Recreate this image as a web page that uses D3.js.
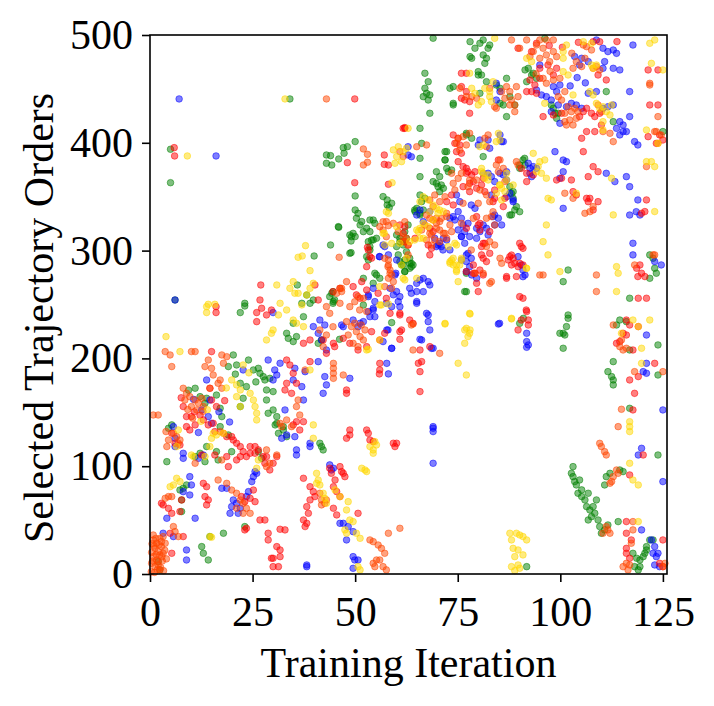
<!DOCTYPE html>
<html>
<head>
<meta charset="utf-8">
<script src="https://cdn.jsdelivr.net/npm/d3@7"></script>
<style>
  body { margin: 0; background: #fff; }
  text { font-family: "Liberation Serif", "Times New Roman", serif; fill: #000; }
</style>
</head>
<body>
<div class="chart"></div>
<script>
// [training iteration, selected trajectory order], one list per colour
var bluePts = [
  [7.1,440.7],[16.1,387.8],[62.9,388.7],[56.8,305.2],[55.9,294.4],[58.1,296],[59.9,279],[53.2,257.3],[54.4,265],[54.8,252.7],[60.1,262],[59.3,259],
  [95,472.2],[103.5,480],[104.7,472.2],[105.2,478.4],[106.8,475.3],[108.8,495.4],[110.4,487.7],[111.6,484.6],[112.9,486.1],[113.7,483],[110.8,475.3],[110.4,469.1],[112.9,469.1],[114.5,467.6],[117.7,490.7],
  [84.4,455.2],[85.3,447.5],[84.4,439.7],[94.2,449],[95.4,444.4],[96.6,442.8],[97.8,439.7],[99.1,447.5],[98.3,452.1],[99.9,453.6],[99.5,435.1],[97.8,428.9],[99.9,418.1],[101.5,433.5],[102.7,436.6],[103.9,435.1],[105.2,432],[106.8,445.9],[108.8,447.5],[110.4,432],[111.6,433.5],[112.9,435.1],[116.9,424.3],[114.5,419.6],[115.3,416.5],[113.7,413.4],[116.9,447.5],[116.1,410.4],[115.3,410.4],[114.5,407.3],[118.1,401.1],[118.9,398],
  [80,398],[80.4,402.6],[82.4,402.6],[82.8,394.9],[85.3,407.3],[85.7,401.1],[86.1,401.1],
  [81.2,371.7],[82.4,371.7],[83.2,368.6],[84,364],[83.2,351.6],[85.3,371.7],[86.1,370.2],[86.9,373.2],[86.9,365.5],[87.7,353.2],[88.5,347],[94.2,376.3],[93,368.6],[92.2,381],[92.6,376.3],
  [98.7,391.8],[100.7,384],[101.5,382.5],[100.7,373.2],[99.9,367.1],[100.7,339.2],[111.2,371.7],[113.3,364],[116.9,359.3],[118.9,347],[116.1,368.6],[116.9,333],[118.5,336.1],[119.4,333],
  [65.8,337.7],[68.2,336.2],[65,333],[66.6,326.9],[70.2,305.2],[71,303.7],[71.5,311.4],[73.1,330],[73.9,331.5],[75.1,336.2],[75.9,330],[76.3,323.8],[75.1,319.2],[75.9,313],[76.7,306.8],
  [77.1,296],[77.1,289.8],[77.9,285.1],[78.4,277.4],[77.1,280.5],[79.6,274.3],[75.9,291.3],[77.9,313],[76.7,317.6],[80.4,317.6],[79.6,311.4],[82,320.7],[81.2,323.8],[82.4,314.5],[84,333],[84.9,330],[84,323.8],
  [89.7,294.4],[90.5,286.7],[90.9,282],[91.4,277.4],[117.7,306.8],[117.7,296],[123,289.8],[124.6,286.7],[65,252.7],[65,262],[63.3,265],
  [67.8,240.3],[67.8,234.1],[68.2,226.4],[65.8,217.7],[69,209.4],[84.9,231.9],[91.8,223.3],[91.8,215.6],[92.2,212.5],[91.8,210.3],[69,136.7],[69,135.2],[69,132.1],[69,102.7],
  [121,221.7],[121,195.4],[120.2,187.7],[121,186.2],[125,152.2],[119.8,116.6],[119,110.4],[125,85.7],[119.8,40.9],[122.2,31.6],[123,25.4],[123.4,16.1],[122.6,19.2],[123.8,19.2],[123,8.4],[124.2,6.8],
  [30,242.5],[39.8,229.5],[41,223.3],[41.4,235.6],[42.6,231],[43,207.8],[46.7,231],[49.5,235.6],[51.2,232.6],[53.2,243.4],[54.4,246.5],[54.8,238.7],[57.7,226.4],[58.9,209.4],[60.9,248],[60.5,252.7],
  [22.7,189.3],[30.4,189.3],[30.9,184.6],[30,180],[31.7,195.5],[28.8,198.5],[35.3,190.8],[37.8,187.7],[34.9,180],[37,173.8],[37.4,161.4],[41,197],[42.6,183.1],[43,175.4],[42.2,167.6],[48.7,181.5],[57.7,195.4],[58.1,185.6],
  [13.8,180],[12.6,152.2],[14.2,146],[15,139.8],[14.6,161.4],[32.9,152.2],[32.1,125.9],[33.3,129],[35.3,127.4],[35.7,115.1],[35.7,110.4],[39,121.3],[39,118.2],[5.7,136.7],[6.1,118.2],[6.1,125.9],
  [8.1,112],[8.1,107.3],[11.8,107.3],[13,110.4],[25.6,95],[25.2,90.3],[26,93.4],[24.8,85.7],[8.1,76.4],[9.7,90.3],[10.1,82.6],[9.7,73.3],
  [4.1,51.7],[3.2,37.8],[5.7,34.7],[8.9,22.3],[8.9,13],[11,51.7],[19.5,56.3],[19.9,62.5],[17.5,79.5],[18.7,79.5],[20.3,68.7],[21.1,65.6],[21.5,56.3],[22,61],[24,76.4],[23.5,71.8],
  [38.2,6.8],[38.2,8.4],[43.8,101.2],[44.2,96.5],[44.7,98.1],[46.3,47],[47.1,47],[48.3,44],[49.5,39.3],[47.9,31.6],[49.5,16.1],[49.9,13],[49.5,5.3],[50.7,13],
  [62.9,396.4],[63.7,387.1],[74.7,351.6],[75.5,345.4],[78.3,342.3],[79.2,339.2],[77.5,325.3],[79.6,320.7],[75.9,313],[74.3,328.4],[69.4,311.4],[70.6,306.7],[72.3,309.8],[71.4,300.6],[69.8,303.7],[73.1,300.6],
  [77.5,297.5],[78.3,292.8],[83.6,331.5],[85.7,323.8],[86.9,350],[88.5,345.4],[90.9,275.8],[85.2,232.5],[92.6,371.7],[93.4,377.9],[56,294.4],[57.2,303.7],[59.7,277.4],[60.1,291.3],[58.5,265],
  [57.6,251.1],[58.9,248],[60.9,257.3],[63.7,260.4],[65,251.1],[65.8,272.7],[66.6,274.3],[67.8,271.2],[68.2,268.1],[65,269.6],[66.6,261.9],[67.4,241.8],[66.2,217.1],[68.6,209.3],[58.9,209.3],
  [58,226.4],[56.8,215.6],[53.6,238.7],[54.4,244.9],[53.2,258.8],[52,234.1],[50.7,229.4],[47.1,229.4],[41.8,217.1],[6.1,254.2],
  [10.6,162],[16.8,150.5],[19.4,141],[11.8,131.2],[104.1,460.5],[106.1,455.6],[102.4,452.8]
];

var greenPts = [
  [34.1,440.7],[5,394],[5,363],[43,388.7],[43,381],[44,388.1],[44.3,379.4],[46,385],[47.1,395.5],[47.3,390.3],[48.1,396.4],[50,401.1],[50,350.7],[56.8,350.1],[57.8,347],[57.8,342.3],[58.9,343.9],[58.3,339.9],
  [50,337.7],[50.7,334.6],[50.3,330],[51.6,326.9],[51.2,323.8],[52.8,320.7],[53.6,328.4],[54.4,328.4],[54.8,325.3],[53.6,317.6],[52,317.6],[46,321.6],[48.7,314.5],[49.5,316],[49,308.9],[50,313],[44,305.2],
  [53.2,308.3],[54.4,309.9],[55.2,311.4],[53.6,303.7],[52.8,294.4],[53.2,291.3],
  [60.1,314.5],[60.9,308.3],[61.7,305.2],[62.5,311.4],[60.5,296],[60.9,289.8],[61.7,286.7],[62.1,280.5],[54.8,279],[55.2,277.4],[56,274.3],[54.4,269.7],[40,295],[49,298.1],[35.9,268.1],[38.2,258.8],
  [39.8,254.2],[44.3,260.4],[44.7,252.7],[23.1,251.1],[6.1,254.2],
  [69,497],[78,493.8],[79.2,487.7],[80.4,492.3],[81.2,495.4],[82.4,487.7],[82.8,490.7],[81.2,481.5],[82,478.4],[81.6,473.7],[78,479.9],[78.4,478.4],[96.2,496.9],
  [67,464.5],[67.8,456.7],[67,450.6],[67.4,445.9],[66.6,442.8],[68.2,444.4],[67.8,439.7],[73.9,436.6],[73.9,435.1],[68.2,427.4],
  [73.1,450.6],[73.9,452.1],[80,466],[80,462.9],[80.8,462.9],[80.4,445.9],[82,456.7],[84.4,453.6],[85.3,450.6],[86.9,459.8],[85.3,436.6],[86.1,435.1],[87.7,442.8],[88.9,435.1],[86.9,424.3],
  [91.4,467.6],[92.2,469.1],[93.4,464.5],[94.2,459.8],[91.8,456.7],[93,462.9],[97.8,435.1],[98.3,432],[98.7,427.4],[99.5,427.4],[99.1,422.7],[111.2,447.5],[112.9,419.6],
  [65.8,413.4],[77.1,408.8],[78.4,404.2],[77.1,407.3],[81.2,387.2],[72.3,391.8],[71.9,384.1],[66.2,399.5],[65.8,368.6],[65.8,385.6],
  [69,364],[69.8,362.4],[71,360.9],[71.5,357.8],[72.3,376.3],[73.5,374.8],[70.6,368.6],[87.7,359.3],[88.5,354.7],[88.5,348.5],[89.3,340.8],[88.9,337.7],[88.1,333.1],[90.1,379.4],[90.9,384.1],[91.4,379.4],[125,410.4],
  [65,339.2],[64.6,336.1],[65.8,334.6],[66.6,337.7],[66.2,345.4],[67,348.5],[62.9,323.8],[62.1,317.6],[61.7,308.3],[62.5,299],[63.3,292.9],[63.7,288.2],[64.1,286.7],[63.3,283.6],[62.1,280.5],
  [77.1,279],[76.7,262],[101.9,282],[100.7,271.2],[121.8,296],[122.6,292.9],[123,283.6],[123.4,279],[121.8,274.3],[116.9,255.8],
  [91,237.2],[101.9,240.3],[101.9,237.2],[101.5,229.5],[100.7,223.3],[99.9,223.3],[101.1,221.7],[100.7,209.4],
  [113.7,231],[114.5,235.6],[116.1,234.1],[116.9,207.8],[112.9,197],[111.6,187.7],[112.5,183.1],[112.9,180],[112.9,175.4],[116.9,153.7],[123.8,212.5],[123.8,184.6],[123.8,110.4],
  [103.1,99.6],[102.7,93.4],[103.1,90.3],[103.5,85.7],[103.9,82.6],[104.7,87.2],[105.2,78],[104.3,74.9],[105.2,71.8],[106,68.7],[106.8,74.9],[106.4,62.5],[107.2,59.4],[108,62.5],[108.8,68.7],[108.4,56.3],
  [107.6,53.2],[106.8,50.1],[109.2,50.1],[109.6,44],[110,37.8],[110.8,40.9],[111.6,45.5],[114.1,48.6],[112.1,93.4],[111.2,90.3],[110.8,82.6],[114.5,96.5],[115.3,95],
  [117.7,19.2],[118.6,14.6],[119.4,13],[120.2,16.1],[121,25.4],[121,22.3],[120.6,19.2],[119.4,6.8],[119,3.8],[118.1,6.8],[121.8,31.6],[122.6,31.6],[91.8,6.8],
  [22,242.5],[23.1,248.6],[34.9,232.6],[37.4,238.7],[37,251.1],[39,251.1],[33.3,223.3],[33.7,218.6],[34.9,215.6],[35.7,220.2],[41,214],[41.8,217.1],[46.2,217.7],[58.9,233.2],
  [20.3,203.2],[19.1,192.4],[21.1,193.9],[24,198.5],[25.2,189.3],[26.4,190.8],[26.8,186.2],[27.6,183.1],[28,180],[29.2,181.5],[11,172.3],[12.2,164.5],[13.4,158.4],[13.8,163],[17.1,153.7],[17.5,146],
  [17.1,136.7],[19.1,129],[19.9,113.5],[22,176.9],[23.5,173.8],[22.7,163],[22,155.3],
  [28.4,161.4],[28.8,149.1],[30,152.2],[30.9,146],[30.9,139.8],[32.5,133.6],[31.3,130.5],[33.3,127.4],[28.4,170.7],[30,169.2],[30.5,138.3],[32.5,136.7],[41.4,121.3],[41.8,118.2],[42.2,115.1],
  [4.5,135.2],[5.3,138.3],[4.1,104.2],[11,108.9],[12.2,112],[13.4,104.2],[13.8,118.2],[16.2,113.5],[16.6,105.8],[26.4,113.5],[27.2,107.3],[7.3,77.9],[8.1,79.5],[8.9,82.6],[7.7,68.7],[7.7,57.9],
  [12.6,25.4],[13,19.2],[14.2,13],[14.6,34.7],[17.9,37.8],[23.1,44],[2,11.5],[2.4,3.8],
  [71.9,391.8],[71.9,384.1],[69.8,373.2],[72.7,373.2],[70.2,359.3],[70.6,354.7],[65.8,351.6],[45.9,322.2],[49.1,312.9],[48.7,297.5],[54,309.8],[53.6,300.6],[60.9,311.4],[60.1,303.7],
  [62.1,291.3],[63.3,288.2],[63.7,285.1],[61.3,286.7],[52,274.3],[44.6,261.9],[43.8,257.3],[44.6,251.1],[45,254.2],[64.5,337.7],[65.8,333],[90.1,376.3],[91.3,385.6],[88.1,353.1],[90.1,336.1],
  [87.7,333],[77.1,261.9],[90.1,232.5],[52,249.5],
  [9.4,170.5],[16.2,166],[20.8,185.4],[25.8,178.2]
];

var redPts = [
  [49.9,440.7],[5.9,395.5],[6,387.8],[48.1,381.6],[57.1,388.7],[57.1,380],[58.1,379.4],[62.1,414.1],[49.9,363],[58.1,361.5],[62.1,322.2],[27,268.1],[26.8,254.2],[40.2,268.1],[41,254.2],[51.6,271.2],
  [50.3,258.9],[51.2,255.8],[53,303],[54,293],
  [89.7,487.7],[93,484.6],[94.2,492.3],[97,472.2],[95,469.1],[99.1,469.1],[108,493.8],[109.6,493.8],[109.2,462.9],[111.2,458.3],[121.4,467.6],[123.8,467.6],[121.8,435.1],[123.8,435.1],
  [75.9,464.5],[77.1,464.5],[75.9,452.1],[77.1,447.5],[77.9,438.2],[76.7,439.7],[75.9,441.3],[77.9,427.4],[91.8,447.5],[93,447.5],[94.2,445.9],[92.6,458.3],[93.8,453.6],[95,459.8],[98.3,462.9],
  [95.8,424.3],[98.3,425.8],[100.3,427.4],[104.7,424.3],[105.6,428.9],
  [106.4,432],[107.6,427.4],[108.4,424.3],[109.6,427.4],[106.4,410.4],[105.2,404.2],[108.4,410.4],[110,416.5],[61.7,413.4],[62.1,413.4],
  [73.9,407.3],[75.1,404.2],[74.3,399.5],[75.5,398],[75.9,390.3],[74.7,391.8],[75.1,382.5],[76.3,377.9],[77.1,376.3],[77.5,373.2],[78.4,370.2],[79.2,373.2],[78.8,364],[77.9,354.7],[79.6,357.8],
  [80.8,360.9],[81.2,367.1],[81.6,354.7],[84.9,384.1],[84,356.2],[84,348.5],
  [90.5,376.3],[91.8,371.7],[93.4,370.2],[91.8,364],[99.1,365.5],[100.3,367.1],[102.7,365.5],[103.1,354.7],[103.9,351.6],[106.4,348.5],[106.8,345.4],[107.2,348.5],[108,337.7],[109.2,345.4],
  [105.6,391.8],[108,377.9],[109.2,373.2],[106.8,368.6],
  [121,347],[119.8,334.6],[120.6,336.2],[121.4,405.7],[123.4,399.5],[124.2,407.3],[125,402.6],
  [68.2,320.7],[69,317.6],[68.6,302.1],[68.2,296],[67.8,305.2],[60.9,323.8],[61.7,316],[62.1,308.3],[62.9,305.2],[64.6,311.4],
  [80,323.8],[80.4,319.1],[81.6,306.8],[80.8,303.7],[81.2,292.9],[82,289.8],[80.8,296],[80.4,282],[79.2,279],[79.6,269.7],[80,262],[77.1,280.5],[78.8,286.7],
  [87.3,291.3],[88.1,286.7],[88.9,288.2],[89.7,285.1],[88.5,292.9],[87.7,294.4],[90.1,288.2],[90.9,286.7],[90.1,306.8],[90.5,303.7],[90.9,302.1],[86.9,275.9],[89.3,275.9],[90.9,255.8],
  [118.6,283.6],[119.4,286.7],[119.8,279],[120.6,275.9],[118.9,275.9],[119,255.8],[121,255.8],
  [60.9,240.3],[60.9,224.8],[60.9,217.7],[65.8,207.8],[65.4,195.5],[66.2,197],[65.8,187.7],[65.8,169.2],[89.7,226.4],[90.5,235.6],[91.8,243.4],[92.2,235.6],[92.2,231],
  [113.7,214],[114.5,215.6],[115.3,223.3],[116.1,221.7],[116.9,231],[116.1,235.6],[119,229.5],[117.7,207.8],[116.9,180],[119,183.1],[118.1,167.6],[117.7,152.2],[123,195.4],[120.2,110.4],
  [116.9,91.9],[116.1,48.6],[116.1,37.8],[117.3,31.6],[116.1,23.8],[116.1,19.2],[116.9,14.6],[125,31.6],[125,6.8],[124.2,9.9],
  [16.1,248],[16.1,242.5],[26,242.5],[27.2,246.5],[28.4,240.3],[29.6,244.9],[26,234.1],[37.4,214],[39,217.1],[44.7,214],[57.2,223.3],[56,217.1],[15,206.3],
  [33.3,198.5],[34.1,193.9],[34.9,186.2],[33.3,176.9],[32.9,170.7],[35.7,176.9],[34.5,167.6],[39,197],[47.9,170.7],[47.9,167.6],[56,195.4],[56,189.3],[55.9,185.6],
  [8.1,155.3],[8.9,146],[10.1,146],[11,138.3],[9.7,133.6],[8.9,136.7],[14.6,172.3],[15,161.4],[16.2,155.3],[15.4,139.8],[15.8,132.1],[14.2,138.3],[13,142.9],
  [34.9,138.3],[35.7,141.3],[37.4,141.3],[36.5,133.6],[5.3,130.5],[6.1,121.3],[7.3,119.7],
  [18.7,127.4],[19.9,127.4],[20.3,124.3],[21.1,121.3],[22,118.2],[22.7,113.5],[23.5,108.9],[24.4,112],[25.6,112],[26.4,115.1],[27.6,108.9],[28.4,108.9],
  [12.6,110.4],[15.8,110.4],[18.7,108.9],[19.1,99.6],[21.1,105.8],[22,108.9],[24.4,118.2],[25.6,118.2],[30.9,108.9],[30,102.7],[28,102.7],[29.2,96.5],
  [4.5,60.9],[5.3,56.3],[7.3,57.9],[7.7,68.7],[13,84.1],[13.8,81],[13.4,71.8],[14.2,68.7],[13.8,64.1],[2.8,65.6],[3.2,64.1],[4.9,37.8],[5.3,19.2],[8.1,34.7],
  [24.4,70.2],[23.1,67.1],[22.3,71.8],[25.2,77.9],[25.6,67.1],[28,50.1],[26.8,50.1],[23.5,42.4],[23.1,40.9],[32.9,40.9],[31.7,41.5],
  [28.8,37.8],[28.8,31.6],[30,14.6],[29.6,14.6],[30,6.8],[31.7,22.3],[31.7,16.1],[30.9,25.4],[31.3,6.8],
  [37.4,88.8],[39,81],[39.8,76.4],[40.2,71.8],[39,68.7],[38.2,62.5],[38.6,56.3],[37.4,50.1],[38.2,47],[37.8,44],
  [43.8,98.1],[44.2,93.4],[45.1,87.2],[46.3,99.6],[46.7,95],[47.1,93.4],[47.5,90.3],[44.7,81],[45.5,76.4],[46.3,71.8],[44.7,61],[45.5,54.8],
  [48.7,133.6],[48.7,129],[47.9,125.9],[52.8,133.6],[53.2,130.5],[53.6,124.3],[54.4,122.8],[59.3,121.3],[59.7,118.2],[60.1,121.3],[50.7,56.3],
  [72.3,345.4],[73.5,351.6],[73.9,342.3],[77.1,371.7],[77.9,362.4],[76.3,359.3],[77.1,320.7],[80.4,325.3],[79.6,331.5],[82.8,317.6],[83.6,345.4],[86.1,340.8],[86.5,348.5],[81.2,306.7],[82.8,297.5],
  [88.1,295.9],[78.8,278.9],[81.2,277.4],[86.9,274.3],[90.1,257.3],[91.7,244.9],[57.6,255.7],[55.6,260.4],[58.5,241.8],[60.9,241.8],[63.3,235.6],[64.1,232.5],[61.3,226.4],[68.2,210.9],
  [44.6,261.9],[46.3,265],[49.5,266.6],[52.8,263.5],[54,224.8],[52.8,210.9],[50.7,207.8],[48.7,214],[47.1,218.6],[45,210.9],[42.2,217.1],[43,204.7],[53.6,294.4],[52.8,285.1],[53.2,300.6],
  [10.8,150.4],[12.2,147.2],[7.6,163.5],[18.2,160.8],[100.5,488.6],[104.4,493.2],[113.8,493.9],[97.3,490.2]
];

var orangePts = [
  [43,440.7],[52,394.3],[53,389.3],[53,381.9],[52,379.4],[57.6,326.9],[58.1,323.2],[46.1,293.8],[46.3,265],[46.7,262],[47.9,271.2],[58.1,291.3],[58.1,286.7],[58.5,282],[58.9,277.4],[58.1,274.3],
  [59.3,271.2],[62.5,311.4],[62.9,296],[60.9,391.8],[61.7,387.2],
  [88.1,495.4],[90.1,487.7],[91.8,495.4],[92.6,480],[93.4,484.6],[94.2,490.7],[95,478.4],[95.8,487.7],[96.6,481.5],[97.4,475.3],[98.3,484.6],[99.1,479.9],[95,495.4],[96.6,495.4],[98.3,495.4],
  [103.1,469.1],[103.9,475.3],[105.2,470.7],[106,478.4],[105.6,490.7],[106.4,489.2],[107.6,486.1],[108,469.1],[108.8,470.7],[109.6,467.6],[121.8,455.2],[121.8,453.6],[123.8,424.3],
  [75.5,450.6],[77.1,442.8],[78.4,442.8],[79.6,441.3],[82.8,450.6],[84,433.5],[84.4,432],[85.7,447.5],[86.5,441.3],[86.9,452.1],[87.7,447.5],[88.1,439.7],[89.3,452.1],[89.7,442.8],[87.7,435.1],
  [88.9,435.1],[88.9,428.9],
  [95.8,459.8],[96.6,455.2],[98.3,458.3],[99.9,459.8],[99.5,442.8],[100.3,439.7],[101.1,447.5],
  [101.1,419.6],[101.5,416.5],[102.3,421.2],[103.1,416.5],[103.9,422.7],[102.7,428.9],[103.5,432],[104.3,428.9],[101.9,433.5],[101.1,427.4],
  [109.2,435.1],[110,428.9],[110.4,410.4],[112.1,408.8],[112.9,401.1],[75.1,404.2],[76.3,405.7],[77.1,398],[77.9,408.8],[81.6,404.2],[82,396.4],[82.4,407.3],[85.3,384.1],[84.4,379.4],[84.9,373.2],
  [86.1,376.3],[86.5,364],[75.9,371.7],[77.9,365.5],[89.3,382.5],[89.7,379.4],[101.1,353.2],[103.1,348.5],[106,334.6],[107.2,336.1],[108,340.8],[121,377.9],[123,410.4],[124.6,407.3],[123.8,399.5],
  [123.4,410.4],
  [67.4,333],[69,328.4],[69.8,330],[70.6,326.9],[69.8,320.7],[68.6,314.5],[69.4,309.9],[70.6,308.3],[71.5,316],[72.3,311.4],[73.1,323.8],[72.3,331.5],[82.8,308.3],[84,305.2],[83.2,331.5],[82,330],
  [84,323.8],[85.3,292.9],[85.7,288.2],[95,277.4],[95.8,277.4],[108.8,277.4],[108.8,262],[118.1,286.7],[122.6,296],[123,296],
  [64.1,231.9],[112.9,231],[114.9,217.1],[114.5,210.9],[115.3,207.8],[116.1,209.4],[118.1,187.7],[125,187.7],[114.9,152.8],[114.1,136.7],[109.6,121.2],[110,118.2],[110.8,113.5],[111.2,110.4],
  [111.2,44],[111.6,40.9],[110.4,37.8],[112.1,37.8],[113.7,96.5],[114.1,93.4],[112.9,90.3],[112.5,85.7],[112.1,84.2],[117.7,48.6],[117.7,40.9],[117.3,28.5],[115.3,6.8],[116.9,8.4],[116.1,9.9],
  [116.5,3.8],[125,6.8],[125.5,9.9],
  [47.9,234.1],[49.1,229.5],[50.3,224.8],[51.2,220.2],[52,217.1],[49.5,214],[50.7,210.9],[52.4,226.4],[48.3,221.7],[49.9,232.6],
  [3.7,206.3],[4.9,203.2],[5.3,192.4],[10.1,206.3],[11,206.3],[17.5,203.2],[13.4,192.4],[14.2,198.5],[15,190.8],[18.7,201.6],[17.9,195.5],[17.1,180],[17.5,172.3],[14.6,172.3],[15.4,184.6],[16.6,176.9],
  [37.8,189.3],[36.1,161.4],[35.7,155.3],[36.5,147.5],[44.7,195.4],[44.7,190.8],[44.7,186.2],[44.7,181.5],[47.1,184.6],
  [8.1,172.3],[8.9,167.6],[8.5,161.4],[9.7,164.5],[11,161.4],[10.1,155.3],[11.8,158.4],[11.4,152.2],[12.6,163],[13,155.3],
  [31.7,139.8],[32.1,136.7],[33.3,142.9],[34.5,136.7],[17.1,132.1],[17.9,130.5],[30.9,110.4],[28.4,115.1],[28.4,99.6],[29.2,102.7],
  [4.1,118.2],[3.9,132.1],[4.5,124.3],[5.7,130.5],[6.5,127.4],[6.9,121.3],[7.3,124.3],[17.5,105.8],[11,102.7],[4.5,71.8],[5.3,71.8],[3.7,70.2],[5.7,44],[6.1,39.3],[6.9,34.7],
  [0.8,31.6],[1.6,28.5],[2.4,33.1],[3.2,34.7],[1.2,23.8],[2,20.8],[2.8,25.4],[0.8,16.1],[1.6,13],[2.4,17.7],[0.4,9.9],[3.2,19.2],[1.2,6.8],[2,8.4],[3.7,28.5],[0.8,36.2],[2,11.5],[2.4,3.8],
  [0.4,20],[1,26],[1.5,18],[2.2,27],[2.8,30],[0.6,12],[1.8,4],[3,12],[3.6,22],[0.3,2],[1.1,1.5],[2.6,6],[3.3,3],[4,14],[0.5,28],[1.4,33],[2.9,16],
  [0.8,147.5],[2,147.5],
  [16.6,87.2],[18.7,84.1],[19.9,77.9],[21.1,74.9],[22,68.7],[22.7,65.6],[23.5,61],[24.4,56.3],[22.7,56.3],[21.1,61],
  [41.4,74.9],[41.8,68.7],[43,68.7],[41.8,64.1],[42.6,65.6],
  [53.6,31.6],[54.4,30],[55.6,26.9],[56.4,23.8],[57.2,19.2],[56,13],[55.2,13],[54.4,9.9],[54.8,6.8],[56.8,6.8],[57.6,3.8],[58.1,37.8],[60.9,42.4],
  [65,396.4],[67.4,398],[74.7,399.5],[75.5,393.3],[75.1,367],[73.9,362.4],[74.3,356.2],[73.5,371.7],[69.4,351.6],[68.2,347],[70.6,345.4],[71.9,350],[69,340.8],[68.2,329.9],[67,323.8],[69.8,325.3],
  [71,329.9],[72.3,334.6],[68.2,316],[70.6,319.1],[71.9,316],[66.2,319.1],[67.4,309.8],[68.6,305.2],[73.5,317.6],[75.9,325.3],[78.8,329.9],[79.6,365.5],[80.4,356.2],[82,351.6],[82.8,345.4],
  [83.6,336.1],[77.5,359.3],[80,343.9],[76.3,343.9],[82,303.7],[78.3,300.6],[79.2,278.9],[81.2,278.9],[82.8,269.6],[58,285.1],[57.2,292.8],[58.5,278.9],[57.6,312.9],[56.8,319.1],[56,322.2],
  [56.8,326.8],[59.3,325.3],[60.5,317.6],[61.7,312.9],[62.1,326.8],[61.7,308.3],[62.9,305.2],[46.7,265],[45.5,260.4],[46.3,251.1],[49.9,252.6],[48.7,248],[50.7,257.3],[51.1,244.9],[51.5,231],
  [52.8,243.4],[52,255.7],[43.8,241.8],[43,248],[44.6,229.4],[43,221.7],[41.4,226.4],[42.2,210.9],[57.2,266.6],[58.9,265],[63.7,231],[64.1,207.8],[70.6,204.7],[83.2,271.2],
  [10.4,144.5],[12.9,150.8],[9.2,152.6],[97.5,466.3],[94.1,463.9],[102.8,483.1]
];

var goldPts = [
  [32.9,440.7],[9.1,387.8],[59.3,393.4],[60.5,396.4],[61.7,391.8],[60.1,387.2],[61.3,382.5],[62.5,394.9],[59.7,381],[59,363],[58.1,334.6],[60.1,322.2],[57.1,316],[37.9,304.6],[37.1,295],[36.1,293.8],
  [39,281.4],[30.9,268.1],[34.1,265],[34.9,271.2],[35.3,260.4],[36.1,260.4],[38.2,258.9],[39,265],[39.8,269.7],[62.1,272.8],[62.5,292.9],[14.2,250.2],[15.8,250.2],
  [84,496.9],[91.8,478.4],[93,475.3],[100.7,478.4],[100.7,484.6],[101.5,490.7],[105.6,493.8],[107.6,492.3],[108,469.1],[107.6,472.2],[108.8,472.2],[121.8,492.3],[123,495.4],[122.2,473.7],[125,467.6],
  [77.9,464.5],[78.4,450.6],[79.2,445.9],[80,435.1],[80.8,438.2],[81.6,450.6],[82.8,447.5],[83.2,438.2],[82.8,442.8],[83.6,456.7],[96.2,436.6],[100.7,466],[101.9,462.9],[103.1,444.4],
  [107.2,447.5],[108,444.4],[108.8,436.6],[109.6,432],[110.4,433.5],[111.2,428.9],[112.1,425.8],[112.5,435.1],[110.4,419.6],[121,411.9],[110.4,411.9],[62.9,413.4],
  [80.4,396.4],[84.4,401.1],[85.3,402.6],[84.9,408.8],[80.8,376.3],[81.2,371.7],[81.6,367.1],[82.4,365.5],[86.9,371.7],[85.3,360.9],[85.7,357.8],
  [94.6,377.9],[95,382.5],[96.2,384.1],[94.2,373.2],[95.4,371.7],[96.6,367.1],[97,348.5],[97.8,347],[103.9,353.2],[112.5,367.1],[112.9,333.1],[121,382.5],[122.2,382.5],[123,377.9],[123,336.2],[123.8,399.5],
  [69,342.3],[69.8,339.2],[70.6,337.7],[71.5,336.2],[65.8,320.7],[65.4,317.6],[66.6,311.4],[74.3,306.8],[60.9,306.8],[61.7,274.3],[61.3,286.7],[65,274.3],
  [74.7,286.7],[73.9,292.9],[74.7,280.5],[75.5,286.7],[75.9,291.3],[73.1,288.2],[73.5,291.3],[91.8,283.6],[96.6,323.8],[95.8,308.3],[97,296],[113.7,285.1],[114.1,279],[113.7,262],[99.9,280.5],
  [71.9,231.9],[78,241.2],[76.7,226.4],[78,226.4],[77.5,220.2],[76.7,214],[75.1,195.5],[77.1,184.6],[88.1,236.6],[117.7,235.6],[119,229.5],[119.8,209.4],[114.9,223.3],[119.8,195.4],[116.9,141.3],
  [116.9,136.7],[116.9,132.1],[116.9,102.7],[117.7,87.2],[119,82.6],[119,48.6],
  [87.7,37.8],[88.1,31.6],[88.5,23.8],[89.3,37.8],[90.1,36.2],[90.9,34.7],[91.8,31.6],[89.7,22.3],[90.9,17.7],[88.9,16.1],[89.7,8.4],[90.1,5.3],[88.1,6.8],[88.9,3.1],[121.8,235.6],
  [13.8,248],[13.8,242.5],[31.7,251.1],[31.3,240.3],[33.3,244.9],[34.9,235.6],[35.7,232.6],[37,249.6],[37.4,229.5],[28.4,217.1],[29.6,223.3],[30,226.4],[3.9,220.2],[53.2,208.4],[56,249.6],[58.1,250.5],
  [7.3,206.3],[22.7,193.9],[39,189.3],[39.8,138.3],[39.8,125.9],
  [19.9,180],[21.1,175.4],[22,170.7],[21.1,164.5],[24.4,167.6],[25.2,161.4],[25.6,155.3],[26,149.1],[26,142.9],[22,155.3],
  [6.9,133.6],[6.5,118.2],[10.1,110.4],[10.6,108.9],[13.4,108.9],[14.6,118.2],[15,125.9],[15.4,130.5],[16.2,129],[17.9,130.5],[26,98.1],[26.4,105.8],[4.9,81],[5.7,82.6],[6.5,88.8],[7.3,85.7],[15,34.1],[14.6,34.7],
  [40.6,93.4],[41,87.2],[40.6,84.1],[41.4,82.6],[42.2,74.9],[42.6,70.2],[43,65.6],[45.1,78],[46.3,71.8],[48.3,67.1],[47.9,59.4],[49.5,48.6],[48.7,50.1],[50.3,37.8],[51.2,33.1],
  [51.6,98.1],[52.4,96.5],[52.8,95],[53.6,118.2],[54.4,115.1],[54.4,112],[55.2,119.7],[54.8,122.8],[47.5,40.9],[47.9,37.8],[50.7,6.8],[51.2,3.8],
  [81.2,398],[80.8,373.2],[82.4,370.1],[85.2,360.9],[86.5,354.7],[84.4,353.1],[85.7,346.9],[86.9,365.5],[88.5,360.9],[93.4,390.2],[66.6,350],[67.8,347],[65.8,345.4],[68.2,336.1],[70.2,334.6],
  [69,328.4],[67.8,322.2],[66.6,325.3],[65,319.1],[65.8,311.4],[64.5,309.8],[63.3,308.3],[57.6,336.1],[56.8,316],[57.2,305.2],[58.9,306.7],[73.1,289.7],[73.9,286.7],[74.7,282],[75.9,292.8],
  [72.7,303.7],[74.7,305.2],[75.1,271.2],[77.9,241.8],[77.1,227.9],[77.9,223.3],[71.9,232.5],[88.1,237.2],[91.7,283.6],[56,266.6],[56.4,249.5],[52.8,207.8],[56,217.1],
  [12.4,141.6],[14,152.4],[18.6,172.6],[24.1,186.6]
];

var series = [
  { name: "green", color: "#008000", points: greenPts },
  { name: "blue", color: "#0000ff", points: bluePts },
  { name: "red", color: "#ff0000", points: redPts },
  { name: "orangered", color: "#ff4500", points: orangePts },
  { name: "gold", color: "#ffd700", points: goldPts }
];

var xTicks = [0, 25, 50, 75, 100, 125];
var yTicks = [0, 100, 200, 300, 400, 500];

// ========================================================
var svgWidth = 714;
var svgHeight = 706;

var margin = { top: 35, right: 47, bottom: 132, left: 150 };

var width = svgWidth - margin.left - margin.right;
var height = svgHeight - margin.top - margin.bottom;

var svg = d3.select(".chart")
  .append("svg")
  .attr("width", svgWidth)
  .attr("height", svgHeight);

var chartGroup = svg.append("g")
  .attr("transform", `translate(${margin.left}, ${margin.top})`);

var xScale = d3.scaleLinear().domain([0, 126]).range([0, width]);
var yScale = d3.scaleLinear().domain([0, 500]).range([height, 0]);

// points, one group per colour
series.forEach(function(s) {
  chartGroup.append("g")
    .attr("class", "dots-" + s.name)
    .selectAll("circle")
    .data(s.points)
    .enter()
    .append("circle")
    .attr("cx", d => xScale(d[0]))
    .attr("cy", d => yScale(d[1]))
    .attr("r", 3.3)
    .attr("fill", s.color)
    .attr("fill-opacity", 0.5)
    .attr("stroke", s.color)
    .attr("stroke-opacity", 0.5)
    .attr("stroke-width", 1);
});

// axes
var bottomAxis = d3.axisBottom(xScale).tickValues(xTicks).tickSize(8).tickPadding(14);
var leftAxis = d3.axisLeft(yScale).tickValues(yTicks).tickSize(8).tickPadding(9);

var xAxis = chartGroup.append("g")
  .attr("transform", `translate(0, ${height})`)
  .call(bottomAxis);

var yAxis = chartGroup.append("g")
  .call(leftAxis);

[xAxis, yAxis].forEach(function(ax) {
  ax.select(".domain").remove();
  ax.selectAll(".tick line").attr("stroke", "#000").attr("stroke-width", 1.6);
  ax.selectAll(".tick text")
    .attr("fill", "#000")
    .style("font-family", '"Liberation Serif", "Times New Roman", serif')
    .style("font-size", "42px");
});

// frame
chartGroup.append("rect")
  .attr("x", 0)
  .attr("y", 0)
  .attr("width", width)
  .attr("height", height)
  .attr("fill", "none")
  .attr("stroke", "#000")
  .attr("stroke-width", 1.6);

// axis labels
svg.append("text")
  .attr("x", margin.left + width / 2)
  .attr("y", 677)
  .attr("text-anchor", "middle")
  .style("font-size", "42px")
  .text("Training Iteration");

svg.append("text")
  .attr("transform", "rotate(-90)")
  .attr("x", -318)
  .attr("y", 53)
  .attr("text-anchor", "middle")
  .style("font-size", "42px")
  .text("Selected Trajectory Orders");
</script>
</body>
</html>
